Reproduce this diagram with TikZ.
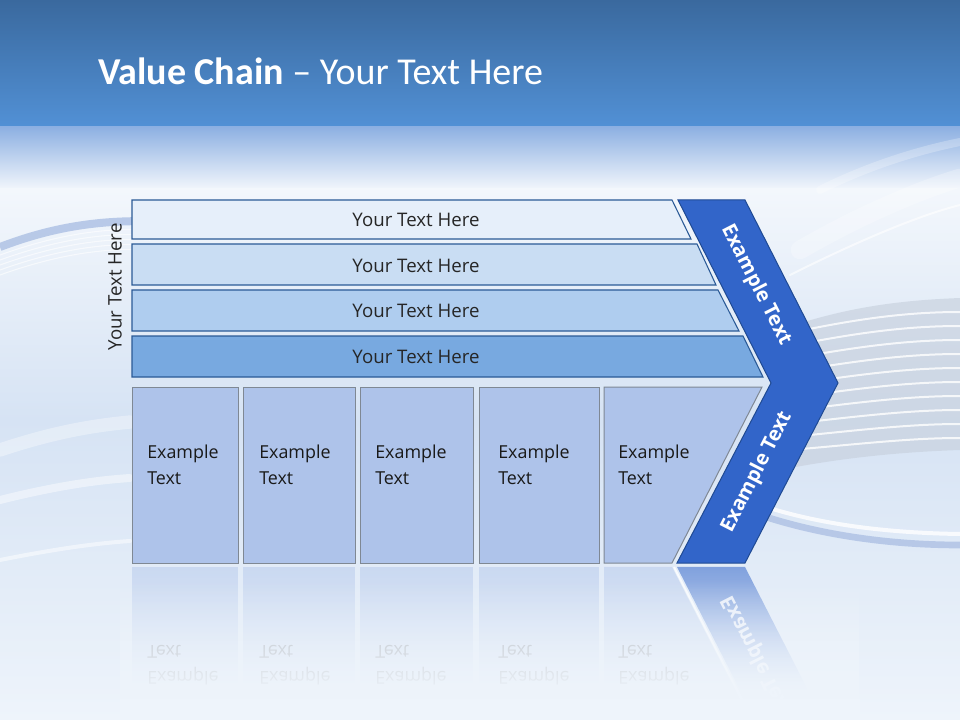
\documentclass[tikz,border=0pt]{standalone}
\usepackage{fontspec}
\setmainfont{Open Sans}
\newfontfamily\titlefont{Carlito}
\usetikzlibrary{fadings}
\definecolor{bgA}{HTML}{3A699E}
\definecolor{bgB}{HTML}{5291D6}
\definecolor{bgC}{HTML}{8DB0E2}
\definecolor{bgD}{HTML}{F3F7FC}
\definecolor{bgE}{HTML}{D6E3F4}
\definecolor{bgF}{HTML}{EEF4FB}
\definecolor{barA}{HTML}{E6EFFA}
\definecolor{barB}{HTML}{C9DDF3}
\definecolor{barC}{HTML}{AFCDEF}
\definecolor{barD}{HTML}{78A9E0}
\definecolor{barline}{HTML}{2B5A96}
\definecolor{boxfill}{HTML}{AEC3EA}
\definecolor{boxline}{HTML}{7F8894}
\definecolor{chev}{HTML}{3265C9}
\definecolor{chevline}{HTML}{1F4A93}
\definecolor{swblue}{HTML}{B3C5E6}
\definecolor{swgray}{HTML}{C9D2DF}
\tikzset{
  barshape/.style={draw=barline, line width=0.8pt},
  bartext/.style={font=\fontsize{14}{17}\selectfont, text=black!85},
  boxshape/.style={fill=boxfill, draw=boxline, line width=0.75pt},
  boxtext/.style={font=\fontsize{13.4}{19.5}\selectfont, text=black!90, align=left, anchor=west, inner sep=0pt},
  refltext/.style={font=\fontsize{13.4}{19.5}\selectfont, text=black!45, text opacity=0.55, align=left, anchor=west, inner sep=0pt, yscale=-1},
  reflbox/.style={fill=boxfill, fill opacity=0.45, path fading=south},
  chevshape/.style={fill=chev, draw=chevline, line width=0.75pt},
  chevtext/.style={font=\bfseries\fontsize{15}{18}\selectfont, text=white, inner sep=1pt},
  swoosh/.style={white, line cap=round},
}
\begin{document}
\begin{tikzpicture}[x=0.75pt,y=-0.75pt]
\useasboundingbox (0,0) rectangle (960,720);
% background
\shade[top color=bgA, bottom color=bgB] (0,0) rectangle (960,128);
\shade[top color=bgC, bottom color=bgD] (0,127) rectangle (960,190);
\shade[top color=bgD, bottom color=bgE] (0,189) rectangle (960,420);
\shade[top color=bgE, bottom color=bgF] (0,419) rectangle (960,720);
% background swooshes right
\fill[swgray, opacity=0.7] (780,330) .. controls (850,305) and (910,300) .. (960,298)
  -- (960,450) .. controls (900,452) and (840,458) .. (780,470) -- cycle;
\foreach \k in {0,...,9}{
  \draw[swoosh, line width=1.5pt, opacity=0.8] (790,{333+\k*13}) .. controls (860,{318+\k*14}) and (910,{312+\k*14}) .. (960,{312+\k*14});
}
\draw[swblue, line width=5pt, opacity=0.9] (760,515) .. controls (820,535) and (890,545) .. (960,545);
\draw[swoosh, line width=3pt, opacity=0.8] (760,505) .. controls (820,525) and (890,533) .. (960,534);
\draw[swoosh, line width=14pt, opacity=0.25] (800,250) .. controls (860,215) and (920,190) .. (960,178);
\draw[swoosh, line width=1.5pt, opacity=0.6] (790,275) .. controls (860,240) and (920,215) .. (960,205);
\draw[swoosh, line width=6pt, opacity=0.25] (820,190) .. controls (870,165) and (920,150) .. (960,142);
% background swooshes left
\draw[swblue, line width=6pt, opacity=0.9] (0,247) .. controls (50,228) and (100,218) .. (170,222);
\foreach \k in {1,...,5}{
  \draw[swoosh, line width=0.8pt, opacity=0.6] (0,{250+\k*5}) .. controls (50,{232+\k*5}) and (100,{222+\k*5}) .. (150,{225+\k*5});
}
\draw[swoosh, line width=10pt, opacity=0.35] (0,450) .. controls (60,430) and (100,425) .. (130,422);
\draw[swoosh, line width=6pt, opacity=0.45] (0,500) .. controls (60,485) and (100,480) .. (130,478);
\draw[swoosh, line width=3pt, opacity=0.5] (0,560) .. controls (60,548) and (100,543) .. (130,541);
% title
\node[anchor=base west, inner sep=0pt, text=white, font=\titlefont\fontsize{28.5}{32}\selectfont] (title) at (98,85) {\textbf{Value Chain} – Your Text Here};
% bars
\path[barshape, fill=barA] (132,200) -- (672,200) -- (691,239) -- (132,239) -- cycle;
\path[barshape, fill=barB] (132,244) -- (697,244) -- (716,285) -- (132,285) -- cycle;
\path[barshape, fill=barC] (132,290) -- (718,290) -- (739,331) -- (132,331) -- cycle;
\path[barshape, fill=barD] (132,336) -- (743,336) -- (763,377) -- (132,377) -- cycle;
\node[bartext] (b1) at (416,219.5) {Your Text Here};
\node[bartext] (b2) at (416,265.5) {Your Text Here};
\node[bartext] (b3) at (416,311) {Your Text Here};
\node[bartext] (b4) at (416,356.5) {Your Text Here};
\node[bartext, rotate=90] (side) at (115,287) {Your Text Here};
% boxes
\path[boxshape] (132,387) rectangle (238,563);
\path[boxshape] (243,387) rectangle (355,563);
\path[boxshape] (360,387) rectangle (473,563);
\path[boxshape] (479,387) rectangle (599,563);
\path[boxshape] (604,387) -- (762,387) -- (672,563) -- (604,563) -- cycle;
\node[boxtext] (t1) at (147,465) {Example\\Text};
\node[boxtext] (t2) at (259,465) {Example\\Text};
\node[boxtext] (t3) at (375,465) {Example\\Text};
\node[boxtext] (t4) at (498,465) {Example\\Text};
\node[boxtext] (t5) at (618,465) {Example\\Text};
% chevron
\path[chevshape] (678,200) -- (745,200) -- (838,383) -- (745,563) -- (677,563) -- (771,383) -- cycle;
\node[chevtext, rotate=-63] (c1) at (756,285) {Example Text};
\node[chevtext, rotate=63] (c2) at (757,472) {Example Text};
% reflections
\path[reflbox] (132,567) rectangle (238,700);
\path[reflbox] (243,567) rectangle (355,700);
\path[reflbox] (360,567) rectangle (473,700);
\path[reflbox] (479,567) rectangle (599,700);
\path[reflbox] (604,567) -- (672,567) -- (740,700) -- (604,700) -- cycle;
\path[fill=chev, fill opacity=0.55, path fading=south] (677,567) -- (745,567) -- (813,700) -- (745,700) -- cycle;
\draw[white, line width=1.5pt, opacity=0.8] (674,567) -- (742,700);
\node[refltext] (r1) at (147,665) {Example\\Text};
\node[refltext] (r2) at (259,665) {Example\\Text};
\node[refltext] (r3) at (375,665) {Example\\Text};
\node[refltext] (r4) at (498,665) {Example\\Text};
\node[refltext] (r5) at (618,665) {Example\\Text};
\node[chevtext, text opacity=0.8, rotate=-63, yscale=-1] (rc) at (757,656) {Example Text};
% fade out reflections
\fill[bgF, path fading=north] (120,580) rectangle (860,700);
\fill[bgF] (120,699) rectangle (860,720);
\end{tikzpicture}
\end{document}
